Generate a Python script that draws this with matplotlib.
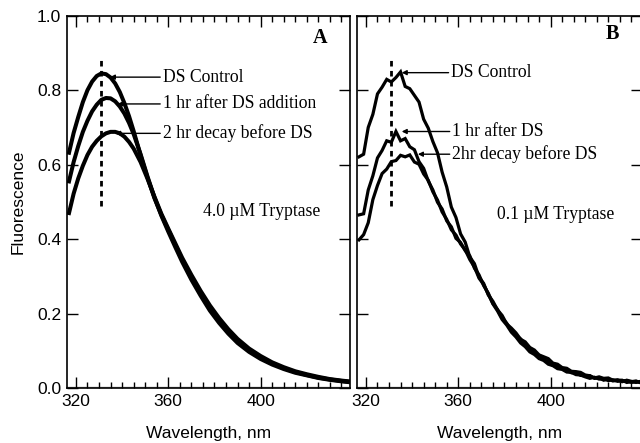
import matplotlib
matplotlib.use("Agg")
import matplotlib.pyplot as plt
from matplotlib.ticker import MultipleLocator

# ---------------- data ----------------
wl_a = [317, 319, 321, 323, 325, 327, 329, 331, 333, 335, 337, 339, 341, 343, 345,
        348, 351, 354, 357, 360, 363, 366, 370, 374, 378, 382, 386, 390, 395, 400,
        405, 410, 415, 420, 425, 430, 435, 438]
a_control = [0.632, 0.685, 0.728, 0.768, 0.800, 0.823, 0.838, 0.845, 0.843, 0.834,
             0.818, 0.795, 0.765, 0.730, 0.690, 0.625, 0.565, 0.510, 0.465, 0.425,
             0.385, 0.345, 0.298, 0.255, 0.215, 0.182, 0.152, 0.127, 0.102, 0.082,
             0.066, 0.053, 0.043, 0.035, 0.028, 0.023, 0.019, 0.017]
a_1hr = [0.555, 0.607, 0.650, 0.688, 0.718, 0.743, 0.761, 0.774, 0.779, 0.778,
         0.770, 0.756, 0.737, 0.712, 0.682, 0.628, 0.568, 0.512, 0.463, 0.420,
         0.379, 0.339, 0.291, 0.248, 0.208, 0.175, 0.146, 0.121, 0.097, 0.078,
         0.063, 0.051, 0.041, 0.034, 0.027, 0.022, 0.018, 0.016]
a_2hr = [0.470, 0.522, 0.563, 0.597, 0.626, 0.648, 0.664, 0.676, 0.684, 0.688,
         0.688, 0.684, 0.675, 0.661, 0.643, 0.607, 0.562, 0.514, 0.468, 0.428,
         0.389, 0.350, 0.304, 0.261, 0.222, 0.188, 0.158, 0.132, 0.106, 0.086,
         0.069, 0.056, 0.045, 0.037, 0.030, 0.024, 0.020, 0.018]

wl_b = [317, 319, 321, 323, 325, 327, 329, 331, 333, 335, 337, 339, 341, 343, 345,
        347, 349, 351, 353, 355, 357, 359, 361, 363, 365, 367, 369, 371, 373, 375,
        377, 379, 381, 383, 385, 387, 389, 391, 393, 395, 397, 399, 401, 403, 405,
        407, 409, 411, 413, 415, 417, 419, 421, 423, 425, 427, 429, 431, 433, 435,
        437, 439]
b_control = [0.621, 0.628, 0.700, 0.735, 0.790, 0.808, 0.829, 0.822, 0.834, 0.849,
             0.810, 0.804, 0.786, 0.768, 0.722, 0.698, 0.662, 0.632, 0.580, 0.540,
             0.486, 0.458, 0.414, 0.392, 0.352, 0.334, 0.298, 0.281, 0.250, 0.233,
             0.210, 0.195, 0.172, 0.161, 0.148, 0.131, 0.124, 0.109, 0.102, 0.089,
             0.084, 0.079, 0.067, 0.064, 0.055, 0.053, 0.045, 0.044, 0.042, 0.035,
             0.033, 0.027, 0.030, 0.026, 0.027, 0.021, 0.022, 0.017, 0.021, 0.018,
             0.015, 0.018]
b_1hr = [0.465, 0.468, 0.532, 0.570, 0.618, 0.638, 0.664, 0.660, 0.689, 0.664,
         0.670, 0.648, 0.640, 0.608, 0.590, 0.556, 0.532, 0.499, 0.481, 0.449,
         0.433, 0.402, 0.391, 0.369, 0.355, 0.322, 0.304, 0.275, 0.255, 0.227,
         0.211, 0.188, 0.174, 0.154, 0.141, 0.132, 0.115, 0.107, 0.093, 0.088,
         0.077, 0.071, 0.061, 0.060, 0.052, 0.049, 0.041, 0.042, 0.034, 0.033,
         0.033, 0.026, 0.027, 0.021, 0.024, 0.019, 0.021, 0.021, 0.015, 0.017,
         0.019, 0.014]
b_2hr = [0.398, 0.412, 0.444, 0.506, 0.544, 0.576, 0.588, 0.608, 0.611, 0.625,
         0.621, 0.626, 0.607, 0.601, 0.575, 0.558, 0.527, 0.505, 0.473, 0.453,
         0.425, 0.411, 0.387, 0.371, 0.345, 0.325, 0.295, 0.278, 0.252, 0.226,
         0.207, 0.184, 0.169, 0.150, 0.137, 0.121, 0.111, 0.097, 0.090, 0.079,
         0.074, 0.064, 0.060, 0.052, 0.050, 0.043, 0.042, 0.036, 0.035, 0.030,
         0.026, 0.029, 0.024, 0.025, 0.020, 0.022, 0.018, 0.019, 0.020, 0.015,
         0.017, 0.015]

x_ticks = [320, 360, 400]
y_ticks = [0.0, 0.2, 0.4, 0.6, 0.8, 1.0]
y_ticklabels = ["0.0", "0.2", "0.4", "0.6", "0.8", "1.0"]
peak_nm = 331

labels_a = ["DS Control", "1 hr after DS addition", "2 hr decay before DS"]
labels_b = ["DS Control", "1 hr after DS", "2hr decay before DS"]

# ---------------- figure ----------------
W, H = 640, 443
fig = plt.figure(figsize=(W / 100, H / 100), dpi=100)

sans = "Liberation Sans"
serif = "Liberation Serif"

def px_axes(l, r, t, b):
    return [l / W, 1 - b / H, (r - l) / W, (b - t) / H]

axA = fig.add_axes(px_axes(66.7, 350.0, 15.7, 388.4))
axB = fig.add_axes(px_axes(356.7, 642.0, 15.7, 388.4))

def style(ax, xmax, show_ylabels):
    ax.set_xlim(316.0, xmax)
    ax.set_ylim(-0.001, 1.0)
    ax.set_xticks(x_ticks)
    ax.xaxis.set_minor_locator(MultipleLocator(5))
    ax.set_yticks(y_ticks)
    ax.tick_params(which="major", direction="in", length=8, width=1.0,
                   top=True, right=True, labelsize=12.5, pad=4)
    ax.tick_params(which="minor", direction="in", length=4, width=1.0,
                   top=True, right=False, left=False)
    for lab in ax.get_xticklabels() + ax.get_yticklabels():
        lab.set_fontfamily(sans)
    if show_ylabels:
        ax.set_yticklabels(y_ticklabels, fontfamily=sans, fontsize=12.5)
    else:
        ax.set_yticklabels([])
    for s in ax.spines.values():
        s.set_linewidth(1.2)
    ax.set_xlabel("Wavelength, nm", fontfamily=sans, fontsize=12.5, labelpad=12)
    ax.axhline(0, color="0.65", lw=2.5, zorder=0)

style(axA, 438.7, True)
style(axB, 439.6, False)
axA.set_ylabel("Fluorescence", fontfamily=sans, fontsize=12.5, labelpad=8)

lw_a = 2.9
for y in (a_control, a_1hr, a_2hr):
    axA.plot(wl_a, y, color="black", lw=lw_a, solid_joinstyle="round")
lw_b = 2.3
for y in (b_control, b_1hr, b_2hr):
    axB.plot(wl_b, y, color="black", lw=lw_b, solid_joinstyle="miter")

for ax in (axA, axB):
    ax.plot([peak_nm, peak_nm], [0.49, 0.89], color="black", lw=2.0,
            linestyle=(0, (2.0, 1.6)))

arrow = dict(arrowstyle="-|>", lw=1.0, color="black", mutation_scale=7,
             shrinkA=0, shrinkB=0)
tfont = dict(fontfamily=serif, fontsize=12.7, va="center", ha="left")

# Panel A annotations
axA.annotate(labels_a[0], xy=(334.7, 0.835), xytext=(357.7, 0.835),
             arrowprops=arrow, **tfont)
axA.annotate(labels_a[1], xy=(338.0, 0.763), xytext=(357.7, 0.763),
             arrowprops=arrow, **tfont)
axA.annotate(labels_a[2], xy=(337.0, 0.684), xytext=(357.7, 0.684),
             arrowprops=arrow, **tfont)
axA.text(375.0, 0.473, "4.0 \u00b5M Tryptase", **tfont)
axA.text(429.0, 0.939, "A", fontfamily=serif, fontsize=14.5, fontweight="bold",
         ha="right", va="center")

# Panel B annotations
axB.annotate(labels_b[0], xy=(335.5, 0.847), xytext=(357.0, 0.847),
             arrowprops=arrow, **tfont)
axB.annotate(labels_b[1], xy=(335.5, 0.689), xytext=(357.5, 0.689),
             arrowprops=arrow, **tfont)
axB.annotate(labels_b[2], xy=(342.5, 0.628), xytext=(357.5, 0.628),
             arrowprops=arrow, **tfont)
axB.text(376.6, 0.465, "0.1 \u00b5M Tryptase", **tfont)
axB.text(429.5, 0.951, "B", fontfamily=serif, fontsize=14.5, fontweight="bold",
         ha="right", va="center")

fig.savefig("out.png", dpi=100)
